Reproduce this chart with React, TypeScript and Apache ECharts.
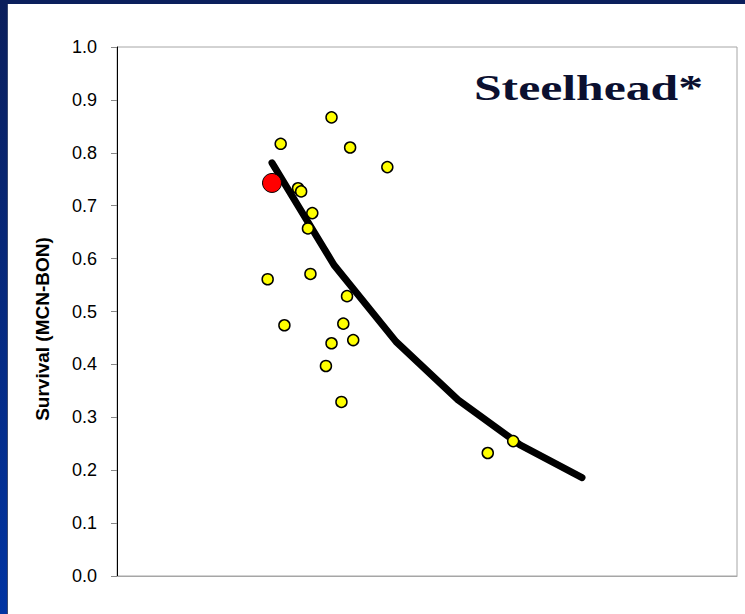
import React, { useEffect, useRef } from "react";
import * as echarts from "echarts";

// Observed survival points (x in arbitrary axis units, y = survival)
const obsX = [34.6, 26.4, 37.6, 43.6, 29.2, 29.7, 31.5, 30.8, 24.3, 31.2, 37.1, 27.0, 36.5, 34.6, 38.1, 33.7, 36.2, 59.8, 63.9];
const obsY = [0.867, 0.817, 0.81, 0.773, 0.733, 0.727, 0.686, 0.657, 0.561, 0.571, 0.529, 0.474, 0.477, 0.44, 0.446, 0.397, 0.329, 0.2325, 0.255];

// Highlighted (current year) point
const highlightX = [25.0];
const highlightY = [0.743];

// Fitted relationship
const fitX = [25, 35, 45, 55, 65, 75];
const fitY = [0.781, 0.588, 0.443, 0.333, 0.248, 0.186];

const titleText = "Steelhead*";
const yAxisTitle = "Survival (MCN-BON)";

export default function App() {
  const ref = useRef<HTMLDivElement>(null);

  useEffect(() => {
    if (!ref.current) return;
    const chart = echarts.init(ref.current, null, { renderer: "svg" });
    const obs = obsX.map((x, i) => [x, obsY[i]]);
    const hi = highlightX.map((x, i) => [x, highlightY[i]]);
    const fit = fitX.map((x, i) => [x, fitY[i]]);

    chart.setOption({
      animation: false,
      backgroundColor: "#ffffff",
      textStyle: { fontFamily: "Arial, 'Liberation Sans', sans-serif" },
      graphic: [
        {
          type: "rect",
          left: 0,
          top: 0,
          shape: { width: 7, height: 614 },
          style: {
            fill: new echarts.graphic.LinearGradient(0, 0, 0, 1, [
              { offset: 0, color: "#0b1f5c" },
              { offset: 1, color: "#0134a2" },
            ]),
          },
          z: 10,
        },
        {
          type: "rect",
          left: 0,
          top: 0,
          shape: { width: 745, height: 4 },
          style: { fill: "#0b1f5c" },
          z: 10,
        },
        {
          type: "rect",
          left: 7,
          top: 4,
          shape: { width: 1, height: 610 },
          style: { fill: "#3a4a70" },
          z: 10,
        },
        {
          type: "text",
          x: 474,
          y: 70,
          scaleX: 1.38,
          style: {
            text: titleText,
            font: "bold 36px 'Liberation Serif', 'Times New Roman', serif",
            fill: "#0b1030",
          },
          z: 10,
        },
      ],
      grid: {
        left: 117,
        top: 47,
        width: 620,
        height: 529,
        show: true,
        borderColor: "#a6a6a6",
        borderWidth: 1,
        backgroundColor: "#ffffff",
      },
      xAxis: {
        type: "value",
        min: 0,
        max: 100,
        axisLine: { show: true, lineStyle: { color: "#a6a6a6", width: 1 } },
        axisTick: { show: false },
        axisLabel: { show: false },
        splitLine: { show: false },
      },
      yAxis: {
        type: "value",
        min: 0,
        max: 1,
        interval: 0.1,
        name: yAxisTitle,
        nameLocation: "middle",
        nameGap: 65,
        nameTextStyle: {
          fontSize: 19,
          fontWeight: "bold",
          color: "#000000",
          padding: [0, 35, 0, 0],
        },
        axisLine: { show: true, lineStyle: { color: "#000000", width: 1 } },
        axisTick: { show: true, inside: false, length: 6, lineStyle: { color: "#888888" } },
        axisLabel: {
          fontSize: 18,
          color: "#000000",
          margin: 20,
          formatter: (v: number) => v.toFixed(1),
        },
        splitLine: { show: false },
      },
      series: [
        {
          type: "line",
          data: fit,
          symbol: "none",
          lineStyle: { color: "#000000", width: 7, cap: "round", join: "round" },
          z: 2,
        },
        {
          type: "scatter",
          data: obs,
          symbol: "circle",
          symbolSize: 11,
          itemStyle: { color: "#ffff00", borderColor: "#000000", borderWidth: 1.5, opacity: 1 },
          z: 3,
        },
        {
          type: "scatter",
          data: hi,
          symbol: "circle",
          symbolSize: 19,
          itemStyle: { color: "#ff0000", borderColor: "#000000", borderWidth: 1, opacity: 1 },
          z: 4,
        },
      ],
    });
    return () => chart.dispose();
  }, []);

  return (
    <div
      ref={ref}
      style={{ position: "fixed", left: 0, top: 0, width: 745, height: 614 }}
    />
  );
}
